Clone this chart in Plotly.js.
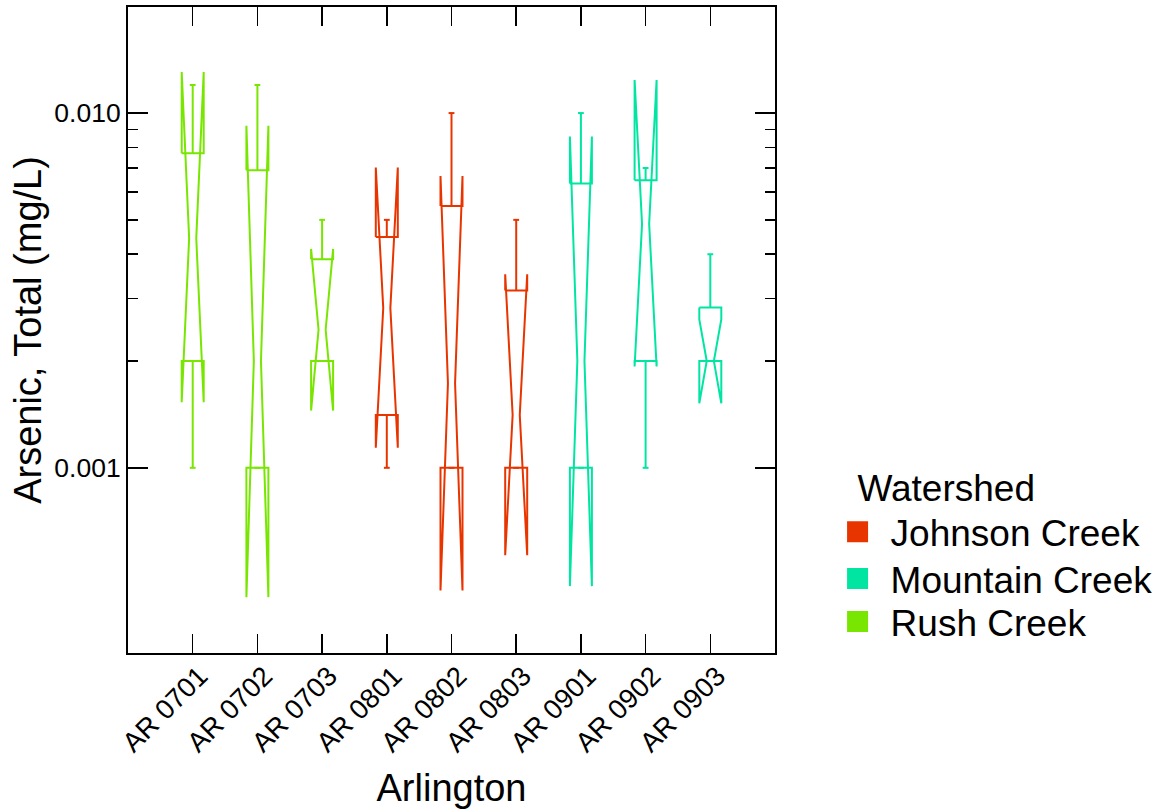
<!DOCTYPE html>
<html>
<head>
<meta charset="utf-8">
<script src="https://cdn.plot.ly/plotly-3.0.1.min.js"></script>
<style>html,body{margin:0;padding:0;background:#fff;}#chart{width:1164px;height:812px;}</style>
</head>
<body>
<div id="chart"></div>
<script>
// ---- data ----
const sites = ['AR 0701','AR 0702','AR 0703','AR 0801','AR 0802','AR 0803','AR 0901','AR 0902','AR 0903'];
const watershed = ['Rush Creek','Rush Creek','Rush Creek','Johnson Creek','Johnson Creek','Johnson Creek','Mountain Creek','Mountain Creek','Mountain Creek'];
const whiskerLow  = [0.001,   0.001,    0.002,   0.001,   0.001,    0.001,    0.001,    0.001,   0.002];
const q1          = [0.002,   0.001,    0.002,   0.00141, 0.001,    0.001,    0.001,    0.002,   0.002];
const median      = [0.00444, 0.002,    0.00245, 0.00282, 0.00173,  0.00141,  0.002,    0.00487, 0.002];
const q3          = [0.0077,  0.0069,   0.00387, 0.00447, 0.00547,  0.00316,  0.00633,  0.00647, 0.00283];
const whiskerHigh = [0.012,   0.012,    0.005,   0.005,   0.010,    0.005,    0.010,    0.007,   0.004];
const notchLow    = [0.00153, 0.000432, 0.00145, 0.00114, 0.000451, 0.000567, 0.000464, 0.00193, 0.00152];
const notchHigh   = [0.01305, 0.00921,  0.00414, 0.00702, 0.00665,  0.00351,  0.00859,  0.01239, 0.00262];
const groups = ['Johnson Creek','Mountain Creek','Rush Creek'];
const groupColors = {'Johnson Creek':'#E83500','Mountain Creek':'#00E5A2','Rush Creek':'#78E600'};
const yTickVals = [0.001, 0.01];
const yTickText = ['0.001','0.010'];
const yMinorVals = [0.002,0.003,0.004,0.005,0.006,0.007,0.008,0.009];

// ---- styling constants ----
const halfW = 0.17, indent = 0.115, capHalf = 0.045;
const FONT = 'Liberation Sans, Arial, Helvetica, sans-serif';

const traces = [];
sites.forEach((s, i) => {
  const x = i + 1;
  const xs = [], ys = [];
  const add = (a, b) => { xs.push(a); ys.push(b); };
  const brk = () => { xs.push(null); ys.push(null); };
  // notched box outline
  add(x - halfW, q3[i]); add(x - halfW, notchHigh[i]); add(x - halfW + indent, median[i]);
  add(x - halfW, notchLow[i]); add(x - halfW, q1[i]); add(x + halfW, q1[i]);
  add(x + halfW, notchLow[i]); add(x + halfW - indent, median[i]); add(x + halfW, notchHigh[i]);
  add(x + halfW, q3[i]); add(x - halfW, q3[i]); brk();
  // whiskers with caps
  add(x, q3[i]); add(x, whiskerHigh[i]); brk();
  add(x - capHalf, whiskerHigh[i]); add(x + capHalf, whiskerHigh[i]); brk();
  add(x, q1[i]); add(x, whiskerLow[i]); brk();
  add(x - capHalf, whiskerLow[i]); add(x + capHalf, whiskerLow[i]);
  traces.push({
    type: 'scatter', mode: 'lines', x: xs, y: ys, name: s,
    line: {color: groupColors[watershed[i]], width: 2},
    showlegend: false, hoverinfo: 'skip'
  });
});
const legendIds = ['legend', 'legend2', 'legend3'];
groups.forEach((g, k) => {
  traces.push({
    type: 'scatter', mode: 'markers', x: [null], y: [null], name: g,
    legend: legendIds[k],
    marker: {symbol: 'square', size: 16, color: groupColors[g], line: {color: groupColors[g], width: 5}},
    showlegend: true
  });
});

const legFont = {size: 37, family: FONT, color: '#000'};
const legBase = {xref: 'container', x: 0.7084, xanchor: 'left', font: legFont, bgcolor: 'rgba(0,0,0,0)', itemwidth: 56};

const layout = {
  width: 1164, height: 812,
  margin: {l: 128, r: 389, t: 7, b: 159},
  paper_bgcolor: '#fff', plot_bgcolor: '#fff',
  font: {family: FONT, color: '#000', size: 26},
  xaxis: {
    range: [0, 10], tickmode: 'array', tickvals: sites.map((_, i) => i + 1), ticktext: sites,
    tickangle: -45, ticks: 'inside', ticklen: 19, tickwidth: 1.5, tickcolor: '#000',
    ticklabelshift: 7, ticklabelstandoff: -6,
    showline: true, linewidth: 2, linecolor: '#000', mirror: 'ticks',
    showgrid: false, zeroline: false,
    tickfont: {size: 27.5, family: FONT},
    title: {text: 'Arlington', font: {size: 38, family: FONT}, standoff: 18}
  },
  yaxis: {
    type: 'log', range: [-3.522, -1.701], tickmode: 'array', tickvals: yTickVals, ticktext: yTickText,
    ticks: 'inside', ticklen: 20, tickwidth: 1.5, tickcolor: '#000',
    minor: {tickmode: 'array', tickvals: yMinorVals, ticks: 'inside', ticklen: 10, tickwidth: 1.5, tickcolor: '#000', showgrid: false},
    showline: true, linewidth: 2, linecolor: '#000', mirror: 'ticks',
    showgrid: false, zeroline: false,
    tickfont: {size: 26.5, family: FONT},
    title: {text: 'Arsenic, Total (mg/L)', font: {size: 38, family: FONT}, standoff: 1}
  },
  legend: Object.assign({}, legBase, {
    y: 0.3096, yanchor: 'top',
    title: {text: '\u00A0\u00A0\u00A0Watershed', font: legFont}
  }),
  legend2: Object.assign({}, legBase, {y: 0.1146, yanchor: 'middle'}),
  legend3: Object.assign({}, legBase, {y: 0.048, yanchor: 'middle'}),
  showlegend: true
};

Plotly.newPlot('chart', traces, layout, {displayModeBar: false, staticPlot: true});
</script>
</body>
</html>
